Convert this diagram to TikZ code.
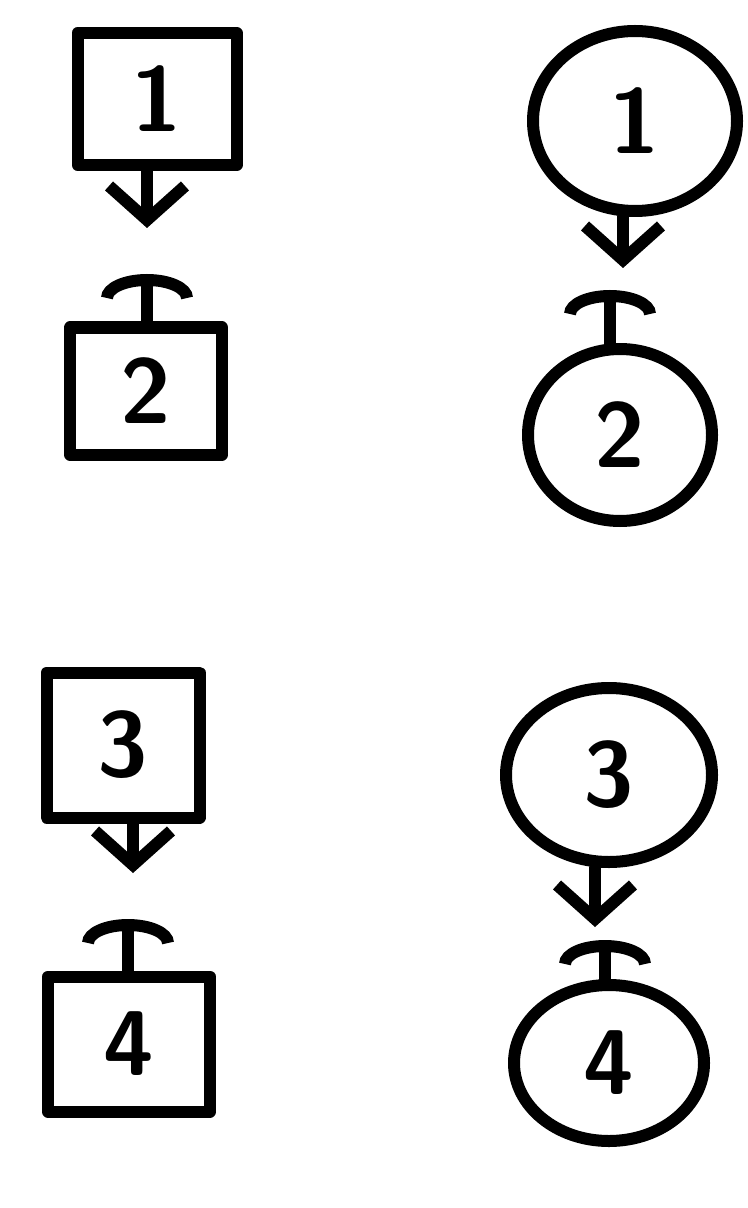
\documentclass[tikz,border=0pt]{standalone}
\usetikzlibrary{arrows.meta,shapes.geometric}
\begin{document}
\begin{tikzpicture}[x=0.5pt,y=-0.5pt,
  sk/.style={line width=6pt, line cap=round, line join=round},
  digit/.style={font=\fontsize{46}{46}\selectfont\sffamily\bfseries},
  boxnode/.style={draw, sk, rectangle, inner sep=0pt, digit},
  ovalnode/.style={draw, sk, ellipse, inner sep=0pt, digit},
  downarr/.style={sk, -{Straight Barb[length=17pt,width=38pt]}},
  uparc/.style={sk, -{Arc Barb[length=12pt,width=46pt]}}]
\useasboundingbox (0,0) rectangle (748,1208);
% left column: boxes
\node[boxnode, minimum width=79.5pt, minimum height=66pt] (b1) at (157,99) {1};
\node[boxnode, minimum width=76pt, minimum height=63.5pt] (b2) at (146,391) {2};
\node[boxnode, minimum width=76.5pt, minimum height=72.5pt] (b3) at (123,745) {3};
\node[boxnode, minimum width=81pt, minimum height=67.5pt] (b4) at (129,1044) {4};
% right column: circles
\node[ovalnode, minimum width=102pt, minimum height=90pt] (c1) at (635,121) {1};
\node[ovalnode, minimum width=92pt, minimum height=86pt] (c2) at (620,435) {2};
\node[ovalnode, minimum width=103pt, minimum height=87pt] (c3) at (609,775) {3};
\node[ovalnode, minimum width=95pt, minimum height=78pt] (c4) at (609,1063) {4};
% free ends
\coordinate (lt1) at (147,228);
\coordinate (lt2) at (147,274);
\coordinate (lt3) at (133,873);
\coordinate (lt4) at (128,919);
\coordinate (rt1) at (623,268);
\coordinate (rt2) at (610,290);
\coordinate (rt3) at (595,927);
\coordinate (rt4) at (605,940);
% connectors
\draw[downarr] (b1.south -| lt1) -- (lt1);
\draw[uparc] (b2.north -| lt2) -- (lt2);
\draw[downarr] (b3.south -| lt3) -- (lt3);
\draw[uparc] (b4.north -| lt4) -- (lt4);
\draw[downarr] (c1.south -| rt1) -- (rt1);
\draw[uparc] (c2.north -| rt2) -- (rt2);
\draw[downarr] (c3.south -| rt3) -- (rt3);
\draw[uparc] (c4.north -| rt4) -- (rt4);
\end{tikzpicture}
\end{document}
